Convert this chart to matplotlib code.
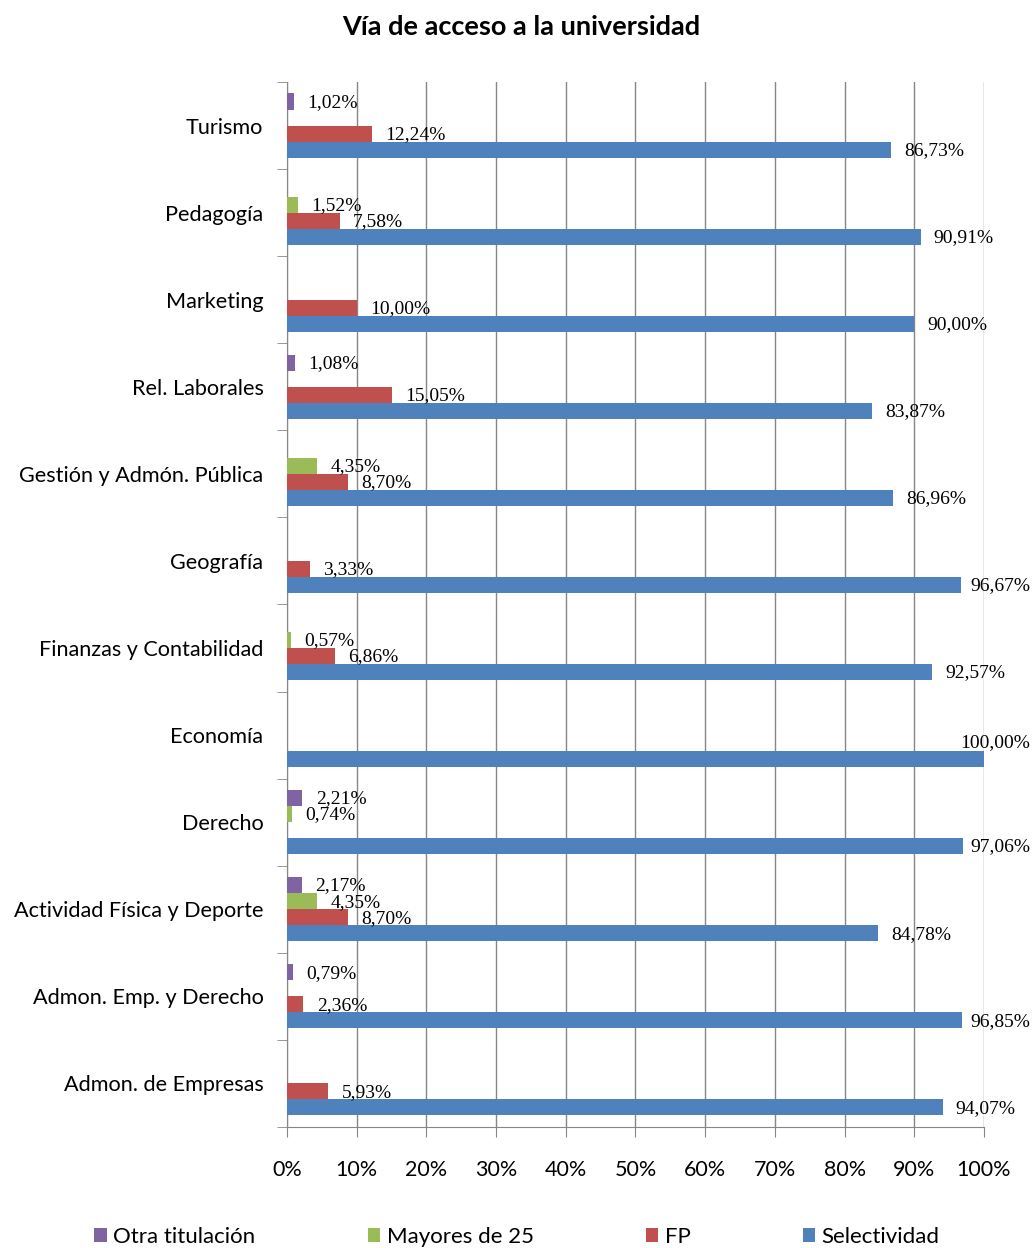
import matplotlib.pyplot as plt
import numpy as np

# Data (bottom to top)
categories = [
    "Admon. de Empresas",
    "Admon. Emp. y Derecho",
    "Actividad Física y Deporte",
    "Derecho",
    "Economía",
    "Finanzas y Contabilidad",
    "Geografía",
    "Gestión y Admón. Pública",
    "Rel. Laborales",
    "Marketing",
    "Pedagogía",
    "Turismo",
]
selectividad = [94.07, 96.85, 84.78, 97.06, 100.00, 92.57, 96.67, 86.96, 83.87, 90.00, 90.91, 86.73]
fp = [5.93, 2.36, 8.70, 0, 0, 6.86, 3.33, 8.70, 15.05, 10.00, 7.58, 12.24]
mayores = [0, 0, 4.35, 0.74, 0, 0.57, 0, 4.35, 0, 0, 1.52, 0]
otra = [0, 0.79, 2.17, 2.21, 0, 0, 0, 0, 1.08, 0, 0, 1.02]

series = [
    ("Selectividad", selectividad, "#4F81BD", -0.276),
    ("FP", fp, "#C0504D", -0.092),
    ("Mayores de 25", mayores, "#9BBB59", 0.092),
    ("Otra titulación", otra, "#8064A2", 0.276),
]

fig = plt.figure(figsize=(10.34, 12.48), dpi=100)
ax = fig.add_axes([0.2776, 0.097, 0.674, 0.8373])

y = np.arange(len(categories))
handles = {}
for name, vals, color, off in series:
    vals = np.array(vals)
    mask = vals > 0
    b = ax.barh(y[mask] + off, vals[mask], height=0.184, color=color, zorder=3)
    handles[name] = b
    for yi, v in zip(y[mask] + off, vals[mask]):
        txt = f"{v:.2f}%".replace(".", ",")
        if v >= 99.5:
            # no room to the right: Excel pushes it up and left
            ax.text(106.6, yi + 0.19, txt, va="center", ha="right",
                    fontsize=14, family="Liberation Serif", zorder=4)
        elif v > 96:
            ax.text(106.6, yi - 0.01, txt, va="center", ha="right",
                    fontsize=14, family="Liberation Serif", zorder=4)
        else:
            ax.text(v + 1.9, yi - 0.01, txt, va="center", ha="left",
                    fontsize=14, family="Liberation Serif", zorder=4)

ax.set_xlim(0, 100)
ax.set_ylim(-0.5, len(categories) - 0.5)
ax.set_xticks(np.arange(0, 101, 10))
ax.set_xticklabels([f"{t}%" for t in range(0, 101, 10)], family="Lato", fontsize=15.5)
ax.set_yticks(y)
ax.set_yticklabels(categories, family="Lato", fontsize=15.6)
ax.set_yticks(np.arange(-0.5, len(categories), 1), minor=True)
ax.tick_params(axis="y", which="major", length=0, pad=17)
ax.tick_params(axis="y", which="minor", length=7, color="#868686")
ax.tick_params(axis="x", length=7, color="#868686", pad=17)
ax.grid(axis="x", color="#868686", linewidth=1, zorder=0)
for s in ["top", "right"]:
    ax.spines[s].set_visible(False)
for s in ["left", "bottom"]:
    ax.spines[s].set_color("#868686")

fig.text(0.504, 0.978, "Vía de acceso a la universidad", ha="center", va="center",
         fontsize=19.5, fontweight="bold", family="Lato")

order = ["Otra titulación", "Mayores de 25", "FP", "Selectividad"]
fig.legend([handles[n] for n in order], order, loc="center", bbox_to_anchor=(0.5, 0.009),
           ncol=4, frameon=False, prop={"family": "Lato", "size": 16},
           handlelength=0.55, handleheight=0.55, handletextpad=0.3, columnspacing=5.05)

fig.savefig("out.png", dpi=100)
